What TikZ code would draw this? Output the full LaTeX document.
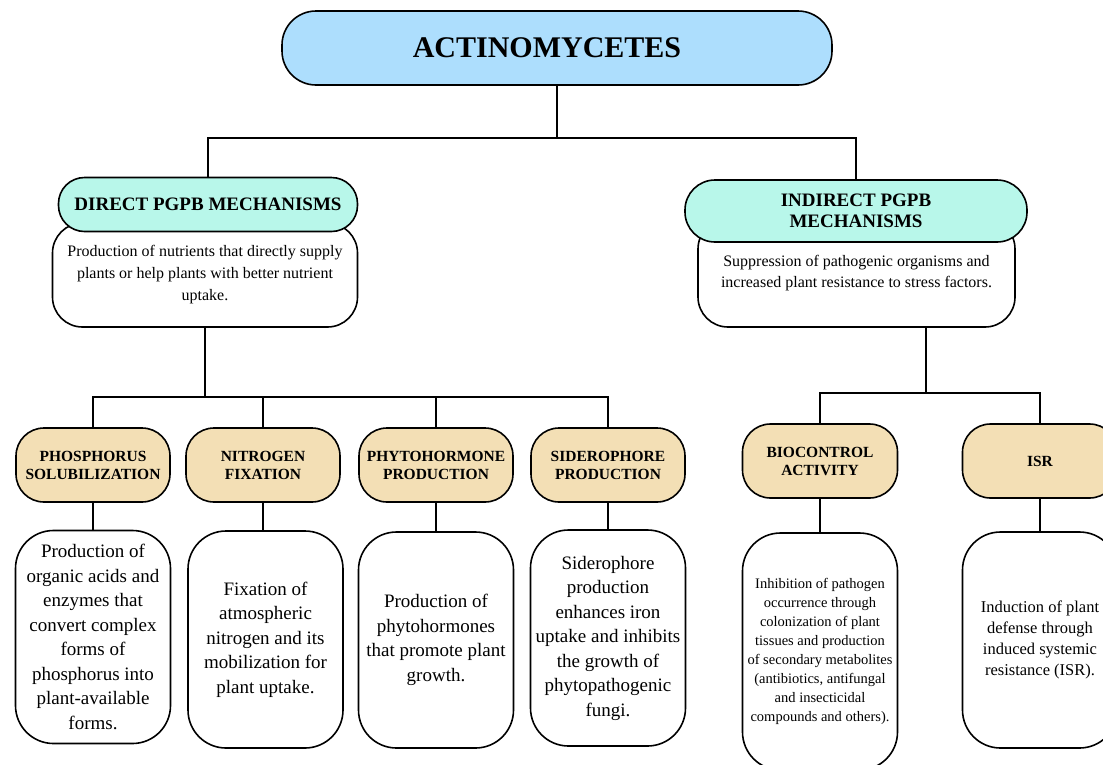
\documentclass[tikz,border=0pt]{standalone}
\usepackage{fontspec}
\setmainfont{Liberation Serif}
\usetikzlibrary{positioning}
\definecolor{rootblue}{HTML}{ADDEFD}
\definecolor{mechteal}{HTML}{B8F7EA}
\definecolor{subtan}{HTML}{F3DFB5}
\tikzset{
  box/.style={draw=black, line width=1.6pt, align=center, inner sep=1pt},
  rootbox/.style={box, fill=rootblue, minimum width=550pt, minimum height=74pt,
    rounded corners=34pt, font=\fontsize{30}{34}\selectfont\bfseries},
  mechbox/.style={box, fill=mechteal, rounded corners=26pt,
    font=\fontsize{19}{21.5}\selectfont\bfseries},
  mechdesc/.style={box, fill=white, rounded corners=30pt,
    font=\fontsize{16}{22}\selectfont},
  subbox/.style={box, fill=subtan, minimum width=154pt, minimum height=74pt,
    rounded corners=28pt, font=\fontsize{15.5}{18}\selectfont\bfseries},
  subdesc/.style={box, fill=white, minimum width=155pt, rounded corners=38pt,
    font=\fontsize{19}{24.5}\selectfont},
  link/.style={draw=black, line width=2pt}
}

\begin{document}
\begin{tikzpicture}[x=1pt,y=-1pt]
\useasboundingbox (0,0) rectangle (1103,764);
% top level
\node[rootbox] (root) at (557,48) {\hspace*{-20pt}ACTINOMYCETES};
% direct and indirect mechanisms
\node[mechdesc, minimum width=305pt, minimum height=104pt] (dirdesc) at (205,275)
  {Production of nutrients that directly supply\\plants or help plants with better nutrient\\uptake.};
\node[mechbox, minimum width=299pt, minimum height=54pt] (dirhead) at (208,204.5)
  {DIRECT PGPB MECHANISMS};
\node[mechdesc, minimum width=317pt, minimum height=108pt, font=\fontsize{16}{20.5}\selectfont] (inddesc) at (856.5,273)
  {Suppression of pathogenic organisms and\\increased plant resistance to stress factors.};
\node[mechbox, minimum width=342pt, minimum height=62pt, rounded corners=30pt] (indhead) at (856,211)
  {INDIRECT PGPB\\MECHANISMS};
% direct branches
\node[subbox] (phos) at (93,465) {PHOSPHORUS\\SOLUBILIZATION};
\node[subbox] (nitro) at (263,465) {NITROGEN\\FIXATION};
\node[subbox] (phyto) at (436,465) {PHYTOHORMONE\\PRODUCTION};
\node[subbox] (sidero) at (608,465) {SIDEROPHORE\\PRODUCTION};
\node[subdesc, minimum height=213pt] (phosdesc) at (93,637)
  {Production of\\organic acids and\\enzymes that\\convert complex\\forms of\\phosphorus into\\plant-available\\forms.};
\node[subdesc, minimum height=217pt] (nitrodesc) at (265.5,639.5)
  {Fixation of\\atmospheric\\nitrogen and its\\mobilization for\\plant uptake.};
\node[subdesc, minimum height=216pt] (phytodesc) at (436,640)
  {Production of\\phytohormones\\that promote plant\\growth.};
\node[subdesc, minimum height=216pt] (siderodesc) at (608,638)
  {Siderophore\\production\\enhances iron\\uptake and inhibits\\the growth of\\phytopathogenic\\fungi.};
% indirect branches
\node[subbox, minimum width=155pt] (bioc) at (820,461) {BIOCONTROL\\ACTIVITY};
\node[subbox, minimum width=155pt] (isr) at (1040,461) {ISR};
\node[subdesc, minimum height=237pt, font=\fontsize{14.5}{19}\selectfont] (biocdesc) at (820,651.5)
  {Inhibition of pathogen\\occurrence through\\colonization of plant\\tissues and production\\of secondary metabolites\\(antibiotics, antifungal\\and insecticidal\\compounds and others).};
\node[subdesc, minimum height=216pt, font=\fontsize{16.5}{21}\selectfont] (isrdesc) at (1040,640)
  {Induction of plant\\defense through\\induced systemic\\resistance (ISR).};
% connectors
\coordinate (jroot) at (557,138);
\draw[link] (root.south) -- (jroot);
\draw[link] (dirhead.north) |- (jroot) -| (indhead.north);
\coordinate (jdir) at (205,397);
\draw[link] (dirdesc.south) -- (jdir);
\draw[link] (phos.north) |- (jdir) -| (sidero.north);
\draw[link] (nitro.north) -- (nitro.north |- jdir);
\draw[link] (phyto.north) -- (phyto.north |- jdir);
\coordinate (jind) at (926,393);
\draw[link] (inddesc.south -| jind) -- (jind);
\draw[link] (bioc.north) |- (jind) -| (isr.north);
\draw[link] (phos.south) -- (phosdesc.north);
\draw[link] (nitro.south) -- (nitro.south |- nitrodesc.north);
\draw[link] (phyto.south) -- (phytodesc.north);
\draw[link] (sidero.south) -- (siderodesc.north);
\draw[link] (bioc.south) -- (biocdesc.north);
\draw[link] (isr.south) -- (isrdesc.north);
\end{tikzpicture}
\end{document}
